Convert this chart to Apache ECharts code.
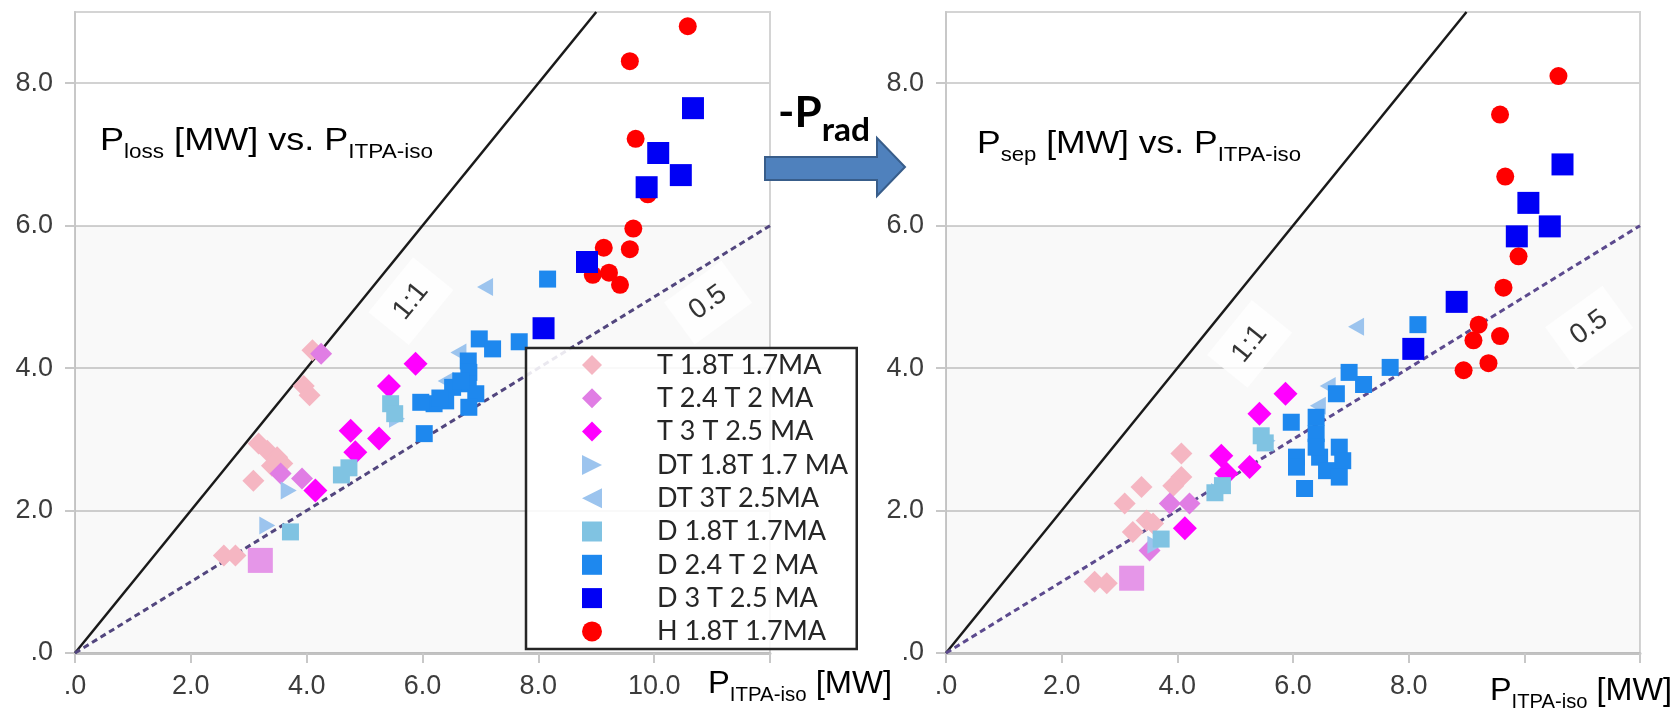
<!DOCTYPE html>
<html>
<head>
<meta charset="utf-8">
<script src="https://cdn.jsdelivr.net/npm/echarts@6/dist/echarts.min.js"></script>
<style>
  html, body { margin: 0; padding: 0; background: #fff; }
  #chart { width: 1675px; height: 713px; }
</style>
</head>
<body>
<div id="chart"></div>
<script>
// ---- categories ----
const seriesNames = ['T 1.8T 1.7MA', 'T 2.4 T 2 MA', 'T 3 T 2.5 MA', 'DT 1.8T 1.7 MA', 'DT 3T 2.5MA',
                     'D 1.8T 1.7MA', 'D 2.4 T 2 MA', 'D 3 T 2.5 MA', 'H 1.8T 1.7MA'];

// ---- P_loss [MW] vs P_ITPA-iso [MW] ----
const lossT18 = [[4.10,4.25],[3.95,3.75],[4.05,3.62],[3.17,2.94],[3.32,2.84],[3.49,2.75],[3.58,2.66],[3.40,2.63],[3.08,2.42],[2.57,1.37],[2.77,1.37]];
const lossT24 = [[4.25,4.20],[3.55,2.52],[3.92,2.45]];
const lossT24Block = [[3.20,1.30]];
const lossT3 = [[4.15,2.28],[4.76,3.12],[4.84,2.82],[5.25,3.01],[5.42,3.75],[5.88,4.06]];
const lossDT18 = [[3.32,1.79],[3.69,2.28],[5.56,3.29]];
const lossDT3 = [[7.08,5.14],[6.62,4.22],[6.40,3.82]];
const lossD18 = [[3.72,1.70],[4.60,2.50],[4.73,2.60],[5.45,3.50],[5.52,3.36]];
const lossD24 = [[8.16,5.25],[7.67,4.37],[6.98,4.41],[7.21,4.27],[6.79,4.10],[6.80,3.94],[6.79,3.78],[6.92,3.64],[6.80,3.45],[6.52,3.73],[6.40,3.54],[6.20,3.50],[5.97,3.52],[6.66,3.82],[6.03,3.08],[6.30,3.58]];
const lossD3 = [[10.67,7.65],[10.07,7.02],[10.46,6.71],[9.87,6.54],[8.84,5.49],[8.09,4.56]];
const lossH = [[10.58,8.80],[9.58,8.31],[9.68,7.22],[9.89,6.44],[9.64,5.96],[9.13,5.69],[9.58,5.67],[8.94,5.31],[9.22,5.34],[9.41,5.17]];

// ---- P_sep [MW] vs P_ITPA-iso [MW] ----
const sepT18 = [[4.07,2.80],[4.07,2.47],[3.93,2.35],[3.38,2.33],[3.09,2.10],[3.47,1.86],[3.58,1.82],[3.23,1.70],[2.57,1.00],[2.78,0.98]];
const sepT24 = [[3.87,2.10],[4.21,2.10],[3.52,1.44]];
const sepT24Block = [[3.21,1.05]];
const sepT3 = [[4.13,1.75],[4.76,2.77],[4.85,2.52],[5.25,2.61],[5.42,3.36],[5.87,3.64]];
const sepDT18 = [[3.62,1.52],[4.72,2.26],[5.56,2.98]];
const sepDT3 = [[7.09,4.58],[6.60,3.75],[6.43,3.47]];
const sepD18 = [[3.72,1.60],[4.65,2.25],[4.78,2.35],[5.45,3.05],[5.52,2.95]];
const sepD24 = [[8.16,4.61],[7.68,4.01],[6.97,3.94],[7.22,3.77],[6.75,3.64],[5.97,3.24],[6.40,3.31],[6.40,3.08],[6.06,2.75],[6.06,2.61],[6.46,2.75],[6.80,2.89],[6.86,2.70],[6.58,2.56],[6.80,2.47],[6.20,2.31],[6.40,2.89]];
const sepD3 = [[10.66,6.86],[10.07,6.32],[10.44,5.99],[9.87,5.85],[8.83,4.93],[8.08,4.27]];
const sepH = [[10.59,8.10],[9.58,7.56],[9.67,6.69],[9.90,5.57],[9.64,5.13],[9.21,4.61],[9.12,4.39],[9.58,4.45],[8.95,3.97],[9.38,4.07]];

// ---- ticks and reference ratios ----
const lossXTickValues = [0, 2, 4, 6, 8, 10];
const lossXTickLabels = ['.0', '2.0', '4.0', '6.0', '8.0', '10.0'];
const sepXTickValues = [0, 2, 4, 6, 8];
const sepXTickLabels = ['.0', '2.0', '4.0', '6.0', '8.0'];
const yTickValues = [0, 2, 4, 6, 8];
const yTickLabels = ['.0', '2.0', '4.0', '6.0', '8.0'];
const ratioValues = [1, 0.5];
const ratioLabels = ['1:1', '0.5'];

// ---- styling ----
const markerStyle = {
  'T 1.8T 1.7MA':   { symbol: 'diamond', size: 22, color: '#f5b6c2' },
  'T 2.4 T 2 MA':   { symbol: 'diamond', size: 22, color: '#e07de4' },
  'T 3 T 2.5 MA':   { symbol: 'diamond', size: 24, color: '#ff00ff' },
  'DT 1.8T 1.7 MA': { symbol: 'path://M0,0L10,5L0,10Z', size: [16, 18], color: '#9cc4ee' },
  'DT 3T 2.5MA':    { symbol: 'path://M10,0L0,5L10,10Z', size: [16, 18], color: '#9cc4ee' },
  'D 1.8T 1.7MA':   { symbol: 'rect', size: 17, color: '#80c3e2' },
  'D 2.4 T 2 MA':   { symbol: 'rect', size: 17, color: '#1e88ee' },
  'D 3 T 2.5 MA':   { symbol: 'rect', size: 22, color: '#0000f5' },
  'H 1.8T 1.7MA':   { symbol: 'circle', size: 18, color: '#ff0000' }
};
const lossSets = [lossT18, lossT24, lossT3, lossDT18, lossDT3, lossD18, lossD24, lossD3, lossH];
const sepSets  = [sepT18, sepT24, sepT3, sepDT18, sepDT3, sepD18, sepD24, sepD3, sepH];
// draw order: H underneath the squares
const drawOrder = [8, 0, 1, 2, 3, 4, 5, 6, 7];

const X_MAX = 12, Y_MAX = 9;
const AXIS_FONT = 'Liberation Sans';

function tickLabel(values, labels, v) {
  const i = values.indexOf(Math.round(v * 1000) / 1000);
  return i >= 0 ? labels[i] : '';
}

function xAxisFor(gi, values, labels) {
  return {
    gridIndex: gi, type: 'value', min: 0, max: X_MAX, interval: 2,
    axisLine: { show: true, onZero: false, lineStyle: { color: '#c2c2c2', width: 3 } },
    axisTick: { show: true, length: 10, lineStyle: { color: '#c8c8c8', width: 2 } },
    axisLabel: { margin: 20, fontFamily: AXIS_FONT, fontSize: 27, color: '#3c3c3c',
                 formatter: v => tickLabel(values, labels, v) },
    splitLine: { show: false }
  };
}
function yAxisFor(gi) {
  return {
    gridIndex: gi, type: 'value', min: 0, max: Y_MAX, interval: 2,
    axisLine: { show: true, lineStyle: { color: '#c8c8c8', width: 2 } },
    axisTick: { show: true, length: 10, lineStyle: { color: '#c8c8c8', width: 2 }, customValues: yTickValues },
    axisLabel: { margin: 22, fontFamily: AXIS_FONT, fontSize: 27, color: '#3c3c3c', customValues: yTickValues,
                 formatter: v => tickLabel(yTickValues, yTickLabels, v) },
    splitLine: { show: true, lineStyle: { color: '#d2d2d2', width: 2 } }
  };
}

function ratioLine(gi, ratio, lineStyle, withBand) {
  const xEnd = Math.min(X_MAX, Y_MAX / ratio);
  const s = {
    type: 'line', xAxisIndex: gi, yAxisIndex: gi, silent: true, z: 1,
    symbol: 'none', data: [[0, 0], [xEnd, ratio * xEnd]], lineStyle
  };
  if (withBand) {
    s.markArea = { silent: true, itemStyle: { color: 'rgba(0,0,0,0.025)' },
                   data: [[{ yAxis: 0 }, { yAxis: 6 }]] };
  }
  return s;
}

function ratioTags(gi, spots) {
  return {
    type: 'scatter', xAxisIndex: gi, yAxisIndex: gi, silent: true, z: 6,
    symbolSize: 1, itemStyle: { color: 'transparent' },
    label: { show: true, position: 'inside', fontFamily: AXIS_FONT, fontSize: 28, color: '#000',
             backgroundColor: '#ffffff', padding: [12, 16] },
    data: spots.map((p, i) => ({ value: p.at, label: { formatter: ratioLabels[i], rotate: p.rotate } }))
  };
}

function markerSeries(gi, sets) {
  return drawOrder.map(k => {
    const name = seriesNames[k], st = markerStyle[name];
    return { type: 'scatter', name, xAxisIndex: gi, yAxisIndex: gi, z: 3,
             symbol: st.symbol, symbolSize: st.size, itemStyle: { color: st.color, opacity: 1 },
             data: sets[k] };
  });
}
function blockSeries(gi, data) {
  const st = markerStyle['T 2.4 T 2 MA'];
  return { type: 'scatter', name: 'T 2.4 T 2 MA', xAxisIndex: gi, yAxisIndex: gi, z: 3,
           symbol: 'rect', symbolSize: 25, itemStyle: { color: st.color }, data };
}

// ---- text with subscripts drawn as graphic elements ----
const measureCtx = document.createElement('canvas').getContext('2d');
const MID_SHIFT = { 'Liberation Sans': 0.3465, 'Lato': 0.387 };
function subText(parts, x0, x1, baseline, family, weight, color) {
  const widths = parts.map(p => {
    measureCtx.font = `${weight} ${p[1]}px "${family}"`;
    return measureCtx.measureText(p[0]).width;
  });
  const natural = widths.reduce((a, b) => a + b, 0);
  const k = (x1 - x0) / natural;
  let x = x0;
  return parts.map((p, i) => {
    const el = {
      type: 'text', x, y: baseline + p[2] - MID_SHIFT[family] * p[1], scaleX: k, z: 20,
      style: { text: p[0], fontSize: p[1], fontFamily: family, fontWeight: weight, fill: color,
               align: 'left', verticalAlign: 'middle' }
    };
    x += widths[i] * k;
    return el;
  });
}

const graphics = [].concat(
  subText([['P', 32, 0], ['loss', 20, 7], [' [MW] vs. P', 32, 0], ['ITPA-iso', 20, 7]], 100, 433, 152, 'Liberation Sans', 'normal', '#000'),
  subText([['P', 32, 0], ['sep', 20, 7], [' [MW] vs. P', 32, 0], ['ITPA-iso', 20, 7]], 977, 1301, 155, 'Liberation Sans', 'normal', '#000'),
  subText([['P', 32, 0], ['ITPA-iso', 20, 7], [' [MW]', 32, 0]], 708, 892, 695, 'Liberation Sans', 'normal', '#000'),
  subText([['P', 32, 0], ['ITPA-iso', 20, 7], [' [MW]', 32, 0]], 1490, 1672, 702, 'Liberation Sans', 'normal', '#000'),
  subText([['-P', 42, 0], ['rad', 32, 13]], 778, 870, 130, 'Lato', 'bold', '#000'),
  [{
    type: 'polygon', z: 20,
    shape: { points: [[765, 157], [877, 157], [877, 138], [905, 167], [877, 196], [877, 180], [765, 180]] },
    style: { fill: '#4f81bd', stroke: '#385d8a', lineWidth: 2 }
  }]
);

// legend geometry
const LEGEND_FONT = 27;
measureCtx.font = `${LEGEND_FONT}px "Lato"`;
const legendTextW = Math.max(...seriesNames.map(n => measureCtx.measureText(n).width));
const legendPadRight = Math.max(4, 858 - 1.25 - (657 + legendTextW));

const option = {
  animation: false,
  backgroundColor: '#ffffff',
  grid: [
    { left: 75, top: 12, width: 695, height: 641, show: true, borderColor: '#d4d4d4', borderWidth: 2, backgroundColor: 'transparent' },
    { left: 946, top: 12, width: 694, height: 641, show: true, borderColor: '#d4d4d4', borderWidth: 2, backgroundColor: 'transparent' }
  ],
  xAxis: [xAxisFor(0, lossXTickValues, lossXTickLabels), xAxisFor(1, sepXTickValues, sepXTickLabels)],
  yAxis: [yAxisFor(0), yAxisFor(1)],
  legend: {
    data: seriesNames, orient: 'vertical', left: 526, top: 348, z: 10,
    padding: [3.5, legendPadRight, 4, 56], itemWidth: 20, itemHeight: 20, itemGap: 6.3,
    backgroundColor: 'rgba(255,255,255,0.88)', borderColor: '#262626', borderWidth: 2.5, borderRadius: 0,
    selectedMode: false,
    formatter: n => '{g| }' + n,
    textStyle: { fontFamily: 'Lato', fontSize: LEGEND_FONT, color: '#262626', lineHeight: 27,
                 rich: { g: { width: 50, lineHeight: 27, fontSize: LEGEND_FONT } } }
  },
  graphic: graphics,
  series: [].concat(
    ratioLine(0, ratioValues[0], { color: '#1a1a1a', width: 2.5 }, true),
    ratioLine(0, ratioValues[1], { color: '#52467e', width: 3, type: [6, 4] }, false),
    ratioLine(1, ratioValues[0], { color: '#1a1a1a', width: 2.5 }, true),
    ratioLine(1, ratioValues[1], { color: '#5c4a8e', width: 3, type: [6, 4] }, false),
    markerSeries(0, lossSets),
    markerSeries(1, sepSets),
    blockSeries(0, lossT24Block),
    blockSeries(1, sepT24Block),
    ratioTags(0, [{ at: [5.8, 4.94], rotate: 51 }, { at: [10.93, 4.92], rotate: 36 }]),
    ratioTags(1, [{ at: [5.25, 4.34], rotate: 51 }, { at: [11.12, 4.57], rotate: 36 }])
  )
};

const chart = echarts.init(document.getElementById('chart'), null, { renderer: 'canvas', width: 1675, height: 713 });
chart.setOption(option);
</script>
</body>
</html>
